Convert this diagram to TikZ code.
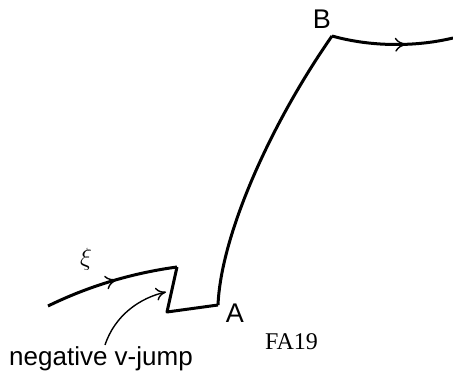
\documentclass[tikz,border=0pt]{standalone}
\usepackage{fontspec}
\newfontfamily\labelfont{Liberation Sans}
\newfontfamily\tagfont{Liberation Serif}
\usetikzlibrary{decorations.markings,arrows.meta}

\begin{document}
\begin{tikzpicture}[
        x=1pt, y=-1pt,
        orbit/.style={
            line width=3pt,
            line join=round
        },
        midarrow/.style={
            postaction={decorate},
            decoration={markings,
                mark=at position #1 with {\arrow{To[length=12pt,width=14pt,line width=1.4pt]}}}
        },
        pointlabel/.style={
            inner sep=0pt,
            font=\labelfont\fontsize{27}{32}\selectfont
        },
        note/.style={->, line width=1.4pt, >={To[length=10pt,width=13pt]}}
    ]

    \useasboundingbox (0,0) rectangle (453,374);

    \coordinate (start) at (48,306);
    \coordinate (top) at (177,267);
    \coordinate (bot) at (167,312);
    \coordinate (A) at (218,305);
    \coordinate (B) at (332,36);
    \coordinate (end) at (453,38);

    \draw[orbit, midarrow=0.55] (start) .. controls (95,283) and (140,272) .. (top);
    \draw[orbit] (top) -- (bot) -- (A);
    \draw[orbit] (A) .. controls (221,235) and (270,125) .. (B);
    \draw[orbit, midarrow=0.62] (B) .. controls (375,48) and (420,46) .. (end);

    \node[pointlabel] (labA) at (235,313) {A};
    \node[pointlabel] (labB) at (322,19) {B};
    \node[inner sep=0pt, font=\fontsize{28}{33}\selectfont] (xi) at (86,259) {$\xi$};

    \node[pointlabel, font=\labelfont\fontsize{26}{31}\selectfont] (neg) at (101,359) {negative v-jump};
    \coordinate (tail) at (105,345);
    \coordinate (tip) at (166,292);
    \draw[note] (tail) .. controls (115,315) and (140,298) .. (tip);

    \node[inner sep=0pt, font=\tagfont\fontsize{24}{29}\selectfont] (tag) at (291.5,342) {FA19};

\end{tikzpicture}
\end{document}
